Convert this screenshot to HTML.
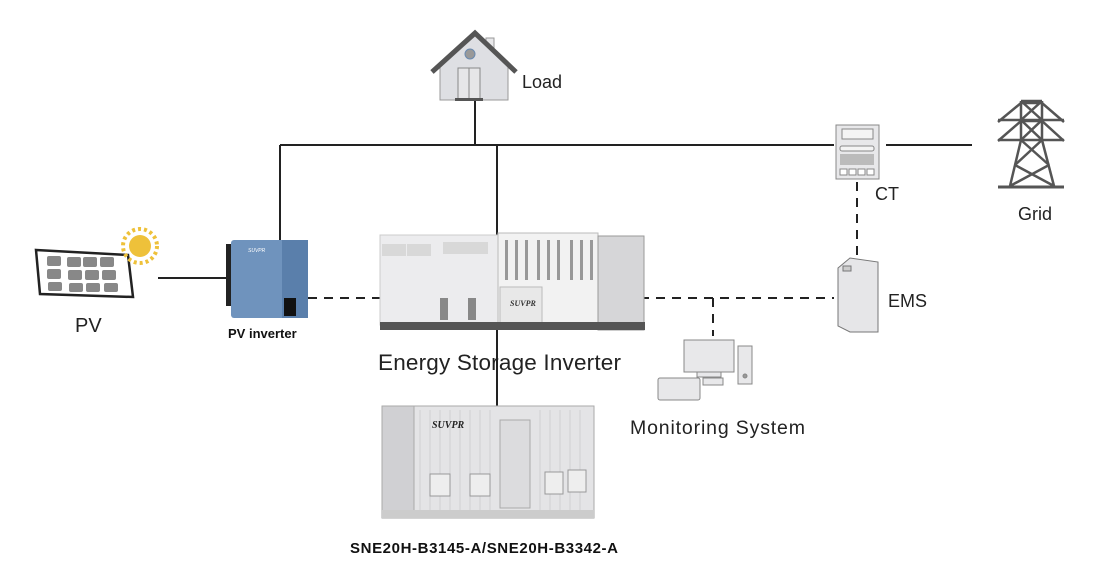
<!DOCTYPE html>
<html><head><meta charset="utf-8"><style>
html,body{margin:0;padding:0;background:#fff;}
svg{display:block;font-family:"Liberation Sans",Arial,sans-serif;}
</style></head><body>
<svg width="1097" height="580" viewBox="0 0 1097 580" xmlns="http://www.w3.org/2000/svg">
<g stroke="#222" stroke-width="2" fill="none">
<line x1="280" y1="145" x2="834" y2="145"/>
<line x1="886" y1="145" x2="972" y2="145"/>
<line x1="475" y1="100" x2="475" y2="145"/>
<line x1="280" y1="145" x2="280" y2="240"/>
<line x1="497" y1="145" x2="497" y2="238"/>
<line x1="497" y1="330" x2="497" y2="408"/>
<line x1="158" y1="278" x2="226" y2="278"/>
</g>
<g stroke="#222" stroke-width="2" fill="none" stroke-dasharray="9,7">
<line x1="308" y1="298" x2="380" y2="298"/>
<line x1="640" y1="298" x2="834" y2="298"/>
<line x1="713" y1="298" x2="713" y2="336"/>
<line x1="857" y1="182" x2="857" y2="258"/>
</g>
<g>
<rect x="486" y="38" width="8" height="24" fill="#e8e8ea" stroke="#999"/>
<polygon points="440,66 475,36 508,66 508,100 440,100" fill="#dedfe3" stroke="#999"/>
<polyline points="432,72 475,33 516,72" fill="none" stroke="#555" stroke-width="5"/>
<circle cx="470" cy="54" r="5" fill="#999" stroke="#6a8ab0"/>
<rect x="458" y="68" width="22" height="31" fill="#e6e6e8" stroke="#888"/>
<line x1="469" y1="68" x2="469" y2="99" stroke="#888"/>
<rect x="455" y="98" width="28" height="3" fill="#555"/>
</g>
<text x="522" y="88" font-size="18" fill="#222">Load</text>
<g stroke="#888" fill="#e8e8ea">
<rect x="836" y="125" width="43" height="54"/>
<rect x="842" y="129" width="31" height="10" fill="#f4f4f4"/>
<rect x="840" y="146" width="34" height="5" rx="2" fill="#f4f4f4"/>
<rect x="840" y="154" width="34" height="11" fill="#bbb" stroke="none"/>
<rect x="840" y="169" width="7" height="6" fill="#fff"/><rect x="849" y="169" width="7" height="6" fill="#fff"/><rect x="858" y="169" width="7" height="6" fill="#fff"/><rect x="867" y="169" width="7" height="6" fill="#fff"/>
</g>
<text x="875" y="200" font-size="18" fill="#222">CT</text>
<g stroke="#555" stroke-width="2.5" fill="none">
<line x1="1021" y1="101" x2="1042" y2="101"/>
<line x1="1021" y1="101" x2="1021" y2="140"/><line x1="1042" y1="101" x2="1042" y2="140"/>
<line x1="1021" y1="101" x2="1042" y2="120"/><line x1="1042" y1="101" x2="1021" y2="120"/>
<line x1="1021" y1="120" x2="1042" y2="140"/><line x1="1042" y1="120" x2="1021" y2="140"/>
<polyline points="998,122 1021,103 1042,103 1064,122"/>
<polyline points="998,141 1021,121 1042,121 1064,141"/>
<line x1="998" y1="120" x2="1064" y2="120"/><line x1="998" y1="140" x2="1064" y2="140"/>
<line x1="1021" y1="140" x2="1010" y2="186"/><line x1="1042" y1="140" x2="1054" y2="186"/>
<line x1="1021" y1="140" x2="1049" y2="165"/><line x1="1042" y1="140" x2="1015" y2="165"/>
<line x1="1015" y1="165" x2="1054" y2="186"/><line x1="1049" y1="165" x2="1010" y2="186"/>
<line x1="998" y1="187" x2="1064" y2="187" stroke-width="3"/>
</g>
<text x="1035" y="220" font-size="18" fill="#222" text-anchor="middle">Grid</text>
<g stroke="#777">
<polygon points="838,268 850,258 878,262 878,332 850,332 838,326" fill="#e6e6e8"/>
<rect x="843" y="266" width="8" height="5" fill="#ccc"/>
</g>
<text x="888" y="307" font-size="18" fill="#222">EMS</text>
<g stroke="#888" fill="#e8e8ea">
<rect x="684" y="340" width="50" height="32"/>
<rect x="697" y="372" width="24" height="5"/>
<rect x="738" y="346" width="14" height="38"/>
<circle cx="745" cy="376" r="2" fill="#999"/>
<rect x="658" y="378" width="42" height="22" rx="2"/>
<rect x="703" y="378" width="20" height="7"/>
</g>
<text x="630" y="434" font-size="19.5" fill="#222" textLength="175">Monitoring System</text>
<polygon points="36,250 128,255 133,297 40,294" fill="#fff" stroke="#222" stroke-width="2.5"/>
<g fill="#888">
<rect x="47" y="256" width="14" height="10" rx="2"/><rect x="67" y="257" width="14" height="10" rx="2"/><rect x="83" y="257" width="14" height="10" rx="2"/><rect x="100" y="257" width="14" height="10" rx="2"/>
<rect x="47" y="269" width="14" height="10" rx="2"/><rect x="68" y="270" width="14" height="10" rx="2"/><rect x="85" y="270" width="14" height="10" rx="2"/><rect x="102" y="270" width="14" height="10" rx="2"/>
<rect x="48" y="282" width="14" height="9" rx="2"/><rect x="69" y="283" width="14" height="9" rx="2"/><rect x="86" y="283" width="14" height="9" rx="2"/><rect x="104" y="283" width="14" height="9" rx="2"/>
</g>
<circle cx="140" cy="246" r="11" fill="#eec13a"/>
<circle cx="140" cy="246" r="17" fill="none" stroke="#eec13a" stroke-width="4" stroke-dasharray="3,3"/>
<text x="75" y="332" font-size="20" fill="#222">PV</text>
<rect x="226" y="244" width="10" height="62" fill="#222"/>
<rect x="231" y="240" width="77" height="78" rx="3" fill="#6f93bd"/>
<rect x="282" y="240" width="26" height="78" fill="#5a7fab"/>
<rect x="284" y="298" width="12" height="18" fill="#111"/>
<text x="248" y="252" font-size="5" fill="#fff" font-style="italic">SUVPR</text>
<text x="228" y="338" font-size="13" font-weight="bold" fill="#111">PV inverter</text>
<rect x="380" y="235" width="118" height="90" fill="#ececee" stroke="#ccc"/>
<rect x="382" y="244" width="24" height="12" fill="#d8d8d8"/><rect x="407" y="244" width="24" height="12" fill="#d8d8d8"/><rect x="443" y="242" width="45" height="12" fill="#d8d8d8"/>
<rect x="440" y="298" width="8" height="22" fill="#888"/><rect x="468" y="298" width="8" height="22" fill="#888"/>
<rect x="498" y="233" width="100" height="95" fill="#f2f2f2" stroke="#bbb"/>
<g fill="#999"><rect x="505" y="240" width="3" height="40"/><rect x="515" y="240" width="3" height="40"/><rect x="525" y="240" width="3" height="40"/><rect x="537" y="240" width="3" height="40"/><rect x="547" y="240" width="3" height="40"/><rect x="557" y="240" width="3" height="40"/><rect x="570" y="240" width="3" height="40"/><rect x="580" y="240" width="3" height="40"/><rect x="590" y="240" width="3" height="40"/></g>
<rect x="500" y="287" width="42" height="38" fill="#e8e8e8" stroke="#bbb"/>
<text x="510" y="306" font-size="8" font-weight="bold" font-style="italic" fill="#333" font-family="Liberation Serif">SUVPR</text>
<rect x="598" y="236" width="46" height="94" fill="#d6d6d8" stroke="#999"/>
<rect x="380" y="322" width="265" height="8" fill="#555"/>
<text x="378" y="370" font-size="22.5" fill="#222" textLength="243">Energy Storage Inverter</text>
<rect x="382" y="406" width="212" height="112" fill="#e4e4e6" stroke="#aaa"/>
<g stroke="#cfcfd2" stroke-width="1">
<line x1="420" y1="410" x2="420" y2="512"/><line x1="430" y1="410" x2="430" y2="512"/><line x1="440" y1="410" x2="440" y2="512"/><line x1="450" y1="410" x2="450" y2="512"/><line x1="460" y1="410" x2="460" y2="512"/><line x1="470" y1="410" x2="470" y2="512"/><line x1="480" y1="410" x2="480" y2="512"/><line x1="490" y1="410" x2="490" y2="512"/><line x1="540" y1="410" x2="540" y2="512"/><line x1="550" y1="410" x2="550" y2="512"/><line x1="560" y1="410" x2="560" y2="512"/><line x1="570" y1="410" x2="570" y2="512"/><line x1="580" y1="410" x2="580" y2="512"/>
</g>
<rect x="382" y="406" width="32" height="112" fill="#d0d0d3" stroke="#aaa"/>
<rect x="500" y="420" width="30" height="88" fill="#dcdcde" stroke="#aaa"/>
<rect x="430" y="474" width="20" height="22" fill="#eee" stroke="#999"/><rect x="470" y="474" width="20" height="22" fill="#eee" stroke="#999"/>
<rect x="545" y="472" width="18" height="22" fill="#eee" stroke="#999"/><rect x="568" y="470" width="18" height="22" fill="#eee" stroke="#999"/>
<text x="432" y="428" font-size="10" font-weight="bold" font-style="italic" fill="#222" font-family="Liberation Serif">SUVPR</text>
<rect x="382" y="510" width="212" height="8" fill="#ccc"/>
<text x="350" y="553" font-size="15" font-weight="bold" fill="#111" textLength="268">SNE20H-B3145-A/SNE20H-B3342-A</text>
</svg>
</body></html>
